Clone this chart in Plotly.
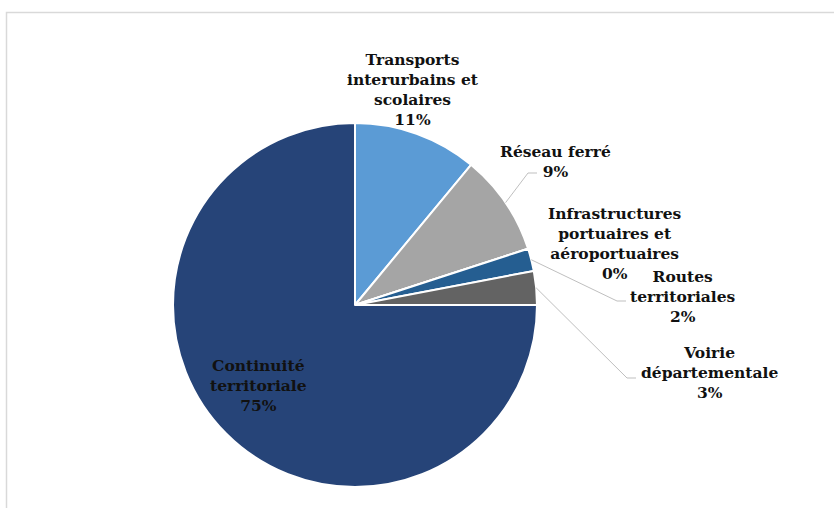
import math
import plotly.graph_objects as go

# Répartition des dépenses de transport (en %)
categories = [
    "Transports\ninterurbains et\nscolaires",
    "Réseau ferré",
    "Infrastructures\nportuaires et\naéroportuaires",
    "Routes\nterritoriales",
    "Voirie\ndépartementale",
    "Continuité\nterritoriale",
]
values = [11, 9, 0, 2, 3, 75]
colors = ["#5B9BD5", "#A5A5A5", "#ED7D31", "#255E91", "#636363", "#264478"]

W, H = 834, 508
cx, cy, r = 355, 305, 182          # pie centre and radius in pixels

# label block centres (pixels) and leader-line elbows
label_pos = [(413, 89), (555, 161), (615, 243), (683, 296), (709, 372), (258, 385)]
leader_end = [None, (528, 173), None, (617, 301), (627, 378), None]

fig = go.Figure(go.Pie(
    labels=[c.replace("\n", " ") for c in categories],
    values=values,
    sort=False,
    direction="clockwise",
    rotation=0,
    marker=dict(colors=colors, line=dict(color="white", width=2)),
    textinfo="none",
    hoverinfo="label+percent",
    showlegend=False,
    domain=dict(x=[(cx - r) / W, (cx + r) / W], y=[1 - (cy + r) / H, 1 - (cy - r) / H]),
))

total = sum(values)
annotations = []
shapes = []
start = 0.0
for cat, v, (lx, ly), end in zip(categories, values, label_pos, leader_end):
    pct = round(100 * v / total)
    text = "<b>" + cat.replace("\n", "<br>") + f"<br>{pct}%</b>"
    annotations.append(dict(
        x=lx / W, y=1 - ly / H, xref="paper", yref="paper",
        xanchor="center", yanchor="middle",
        text=text, showarrow=False, align="center",
        font=dict(family="DejaVu Serif", size=15.5, color="#111111"),
    ))
    mid = start + 360 * v / total / 2
    if end is not None:
        a = math.radians(mid)
        sx, sy = cx + r * math.sin(a), cy - r * math.cos(a)
        ex, ey = end
        shapes.append(dict(type="path", xref="paper", yref="paper",
                           path=f"M {sx / W},{1 - sy / H} L {ex / W},{1 - ey / H} L {(ex + 9) / W},{1 - ey / H}",
                           line=dict(color="#BFBFBF", width=1)))
    start += 360 * v / total

# chart frame
shapes.append(dict(type="rect", xref="paper", yref="paper",
                   x0=6.5 / W, y0=1 - 12.5 / H, x1=1.02, y1=-0.02,
                   line=dict(color="#D9D9D9", width=1.5), fillcolor="rgba(0,0,0,0)"))

fig.update_layout(
    width=W, height=H,
    margin=dict(l=0, r=0, t=0, b=0),
    paper_bgcolor="white",
    annotations=annotations,
    shapes=shapes,
)

fig.write_html("out.html")
